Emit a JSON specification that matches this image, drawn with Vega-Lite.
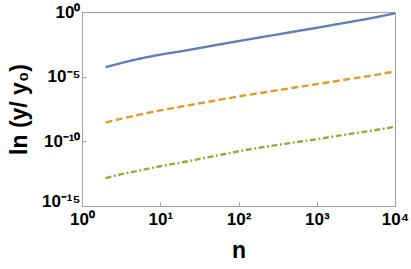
{
  "$schema": "https://vega.github.io/schema/vega-lite/v6.json",
  "autosize": {"type": "none"},
  "padding": {"left": 82, "top": 12, "right": 16, "bottom": 63},
  "width": 313,
  "height": 194,
  "data": {
    "values": [
      {"n": 2, "y": 5.37e-5, "s": "a"},
      {"n": 3, "y": 1.047e-4, "s": "a"},
      {"n": 5, "y": 2.19e-4, "s": "a"},
      {"n": 10, "y": 5.01e-4, "s": "a"},
      {"n": 20, "y": 1.0e-3, "s": "a"},
      {"n": 50, "y": 2.69e-3, "s": "a"},
      {"n": 100, "y": 5.62e-3, "s": "a"},
      {"n": 200, "y": 1.148e-2, "s": "a"},
      {"n": 500, "y": 2.95e-2, "s": "a"},
      {"n": 1000, "y": 6.03e-2, "s": "a"},
      {"n": 2000, "y": 0.126, "s": "a"},
      {"n": 5000, "y": 0.339, "s": "a"},
      {"n": 10000, "y": 0.794, "s": "a"},
      {"n": 2, "y": 2.82e-9, "s": "b"},
      {"n": 3, "y": 5.25e-9, "s": "b"},
      {"n": 5, "y": 1.047e-8, "s": "b"},
      {"n": 10, "y": 2.45e-8, "s": "b"},
      {"n": 20, "y": 5.25e-8, "s": "b"},
      {"n": 50, "y": 1.41e-7, "s": "b"},
      {"n": 100, "y": 2.95e-7, "s": "b"},
      {"n": 200, "y": 5.75e-7, "s": "b"},
      {"n": 500, "y": 1.38e-6, "s": "b"},
      {"n": 1000, "y": 2.63e-6, "s": "b"},
      {"n": 2000, "y": 5.13e-6, "s": "b"},
      {"n": 5000, "y": 1.2e-5, "s": "b"},
      {"n": 10000, "y": 2.57e-5, "s": "b"},
      {"n": 2, "y": 1.445e-13, "s": "c"},
      {"n": 3, "y": 2.63e-13, "s": "c"},
      {"n": 5, "y": 5.01e-13, "s": "c"},
      {"n": 10, "y": 1.175e-12, "s": "c"},
      {"n": 20, "y": 2.51e-12, "s": "c"},
      {"n": 50, "y": 7.41e-12, "s": "c"},
      {"n": 100, "y": 1.7e-11, "s": "c"},
      {"n": 200, "y": 3.47e-11, "s": "c"},
      {"n": 500, "y": 7.94e-11, "s": "c"},
      {"n": 1000, "y": 1.445e-10, "s": "c"},
      {"n": 2000, "y": 2.88e-10, "s": "c"},
      {"n": 5000, "y": 6.61e-10, "s": "c"},
      {"n": 10000, "y": 1.35e-9, "s": "c"}
    ]
  },
  "mark": {"type": "line", "strokeWidth": 2.4, "interpolate": "monotone", "clip": true},
  "encoding": {
    "x": {
      "field": "n", "type": "quantitative",
      "scale": {"type": "log", "domain": [1, 10000], "nice": false},
      "axis": {
        "title": "n",
        "values": [1, 10, 100, 1000, 10000],
        "labelExpr": "datum.value < 5 ? '10⁰' : datum.value < 50 ? '10¹' : datum.value < 500 ? '10²' : datum.value < 5000 ? '10³' : '10⁴'",
        "labelPadding": 9,
        "titlePadding": 12
      }
    },
    "y": {
      "field": "y", "type": "quantitative",
      "scale": {"type": "log", "domain": [1e-15, 1], "nice": false},
      "axis": {
        "title": "ln (y/ y₀)",
        "values": [1e-15, 1e-10, 1e-5, 1],
        "labelExpr": "datum.value > 0.1 ? '10⁰' : datum.value > 1e-7 ? '10⁻⁵' : datum.value > 1e-12 ? '10⁻¹⁰' : '10⁻¹⁵'",
        "labelOffset": {"condition": {"test": "datum.value < 1e-12", "value": -5}, "value": 0},
        "labelPadding": 6,
        "titlePadding": 10
      }
    },
    "color": {
      "field": "s", "type": "nominal", "legend": null,
      "scale": {"domain": ["a", "b", "c"], "range": ["#5E81B5", "#E19C24", "#8FB032"]}
    },
    "strokeDash": {
      "field": "s", "type": "nominal", "legend": null,
      "scale": {"domain": ["a", "b", "c"], "range": [[1, 0], [7, 3.5], [6, 2.5, 2, 2.5]]}
    }
  },
  "config": {
    "view": {"stroke": "#a0a0a0", "strokeWidth": 1},
    "axis": {
      "grid": false,
      "domainColor": "#a0a0a0",
      "tickColor": "#a0a0a0",
      "tickSize": -4,
      "labelFont": "Liberation Sans",
      "labelFontWeight": "bold",
      "labelFontSize": 17,
      "labelColor": "#000000",
      "labelFlush": false,
      "labelOverlap": false,
      "titleFont": "Liberation Sans",
      "titleFontWeight": "bold",
      "titleFontSize": 23,
      "titleColor": "#000000"
    }
  }
}
